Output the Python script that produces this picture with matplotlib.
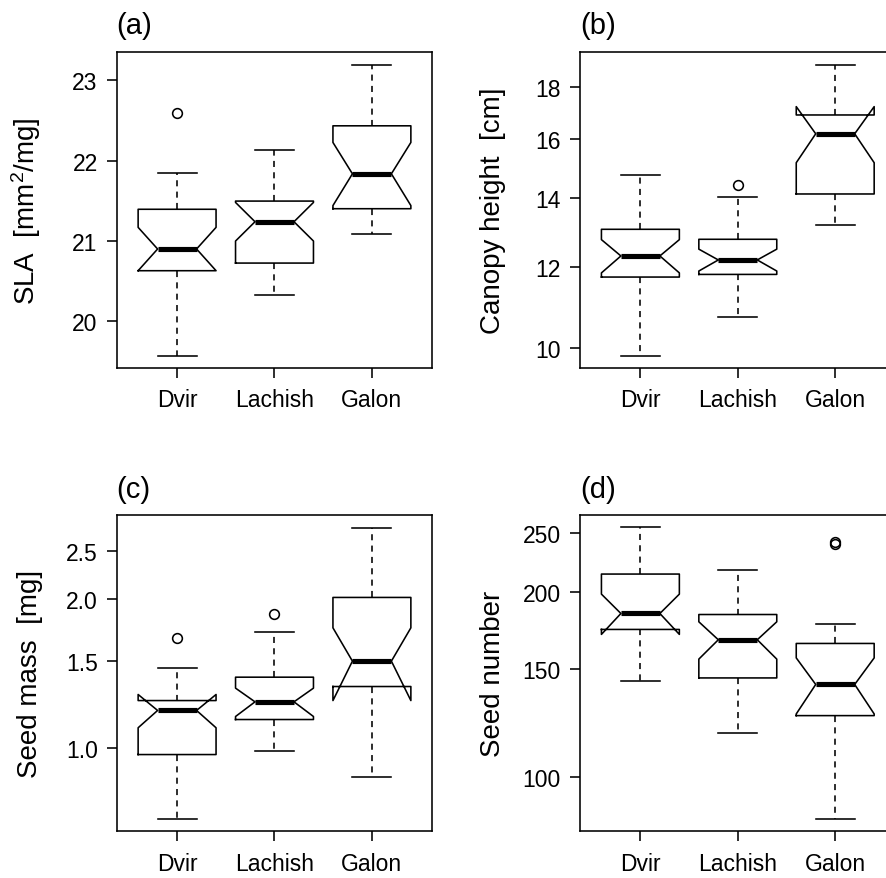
import matplotlib
matplotlib.use("Agg")
import matplotlib.pyplot as plt
from matplotlib.ticker import NullLocator, FixedLocator, FixedFormatter

plt.rcParams['font.family'] = ['Liberation Sans', 'DejaVu Sans']
plt.rcParams['mathtext.fontset'] = 'custom'
plt.rcParams['mathtext.rm'] = 'Liberation Sans'
plt.rcParams['mathtext.it'] = 'Liberation Sans:italic'

sites = ["Dvir", "Lachish", "Galon"]

# panel (a) SLA: whislo, q1, med, q3, whishi, cilo, cihi
sla_whislo = [19.57, 20.331, 21.081]
sla_q1 = [20.63, 20.725, 21.401]
sla_med = [20.90, 21.239, 21.835]
sla_q3 = [21.394, 21.496, 22.432]
sla_whishi = [21.844, 22.126, 23.19]
sla_cilo = [20.63, 20.999, 21.44]
sla_cihi = [21.169, 21.479, 22.225]
sla_fliers = [[22.59], [], []]

# panel (b) canopy height
ch_whislo = [9.82, 10.71, 13.19]
ch_q1 = [11.73, 11.80, 14.14]
ch_med = [12.30, 12.19, 16.19]
ch_q3 = [13.06, 12.77, 16.89]
ch_whishi = [14.75, 14.03, 18.90]
ch_cilo = [11.84, 11.89, 15.17]
ch_cihi = [12.76, 12.49, 17.21]
ch_fliers = [[], [14.43], []]

# panel (c) seed mass
sm_whislo = [0.7177, 0.9877, 0.8725]
sm_q1 = [0.9695, 1.1409, 1.330]
sm_med = [1.190, 1.2386, 1.4965]
sm_q3 = [1.246, 1.389, 2.012]
sm_whishi = [1.451, 1.7126, 2.782]
sm_cilo = [1.098, 1.157, 1.246]
sm_cihi = [1.2816, 1.320, 1.747]
sm_fliers = [[1.663], [1.862], []]

# panel (d) seed number
sn_whislo = [143.3, 118.1, 85.5]
sn_q1 = [174.0, 145.1, 126.0]
sn_med = [184.7, 167.4, 141.6]
sn_q3 = [214.1, 184.0, 165.1]
sn_whishi = [255.0, 217.6, 177.5]
sn_cilo = [170.8, 155.7, 126.8]
sn_cihi = [198.6, 179.05, 156.4]
sn_fliers = [[], [], [239.3, 241.3]]

panels = [
    dict(tag="(a)", ylabel=r"SLA  [mm$^{2}$/mg]", log=False,
         stats=(sla_whislo, sla_q1, sla_med, sla_q3, sla_whishi, sla_cilo, sla_cihi, sla_fliers),
         yticks=[20, 21, 22, 23], ylabels=["20", "21", "22", "23"], ylim=(19.42, 23.35)),
    dict(tag="(b)", ylabel="Canopy height  [cm]", log=True,
         stats=(ch_whislo, ch_q1, ch_med, ch_q3, ch_whishi, ch_cilo, ch_cihi, ch_fliers),
         yticks=[10, 12, 14, 16, 18], ylabels=["10", "12", "14", "16", "18"], ylim=(9.56, 19.46)),
    dict(tag="(c)", ylabel="Seed mass  [mg]", log=True,
         stats=(sm_whislo, sm_q1, sm_med, sm_q3, sm_whishi, sm_cilo, sm_cihi, sm_fliers),
         yticks=[1.0, 1.5, 2.0, 2.5], ylabels=["1.0", "1.5", "2.0", "2.5"], ylim=(0.6787, 2.947)),
    dict(tag="(d)", ylabel="Seed number", log=True,
         stats=(sn_whislo, sn_q1, sn_med, sn_q3, sn_whishi, sn_cilo, sn_cihi, sn_fliers),
         yticks=[100, 150, 200, 250], ylabels=["100", "150", "200", "250"], ylim=(81.7, 266.8)),
]

W, H = 887, 879
fig = plt.figure(figsize=(W / 100, H / 100), dpi=100)
fig.patch.set_facecolor("white")

ax_w = 315.6 / W
ax_h = 316.0 / H
lefts = [116.7 / W, 580.0 / W, 116.7 / W, 580.0 / W]
bottoms = [(H - 369.0) / H, (H - 369.0) / H, (H - 832.3) / H, (H - 832.3) / H]

lw = 1.15
for i, p in enumerate(panels):
    ax = fig.add_axes([lefts[i], bottoms[i], ax_w, ax_h])
    wl, q1, md, q3, wh, cl, chh, fl = p["stats"]
    bstats = []
    for j in range(3):
        bstats.append(dict(whislo=wl[j], q1=q1[j], med=md[j], q3=q3[j], whishi=wh[j],
                           cilo=cl[j], cihi=chh[j], fliers=fl[j], label=sites[j]))
    if p["log"]:
        ax.set_yscale("log")
    ax.bxp(bstats, positions=[1, 2, 3], widths=0.8, shownotches=True,
           boxprops=dict(color="black", linewidth=lw),
           whiskerprops=dict(color="black", linewidth=lw, linestyle=(0, (3.8, 3.3))),
           capprops=dict(color="black", linewidth=lw),
           medianprops=dict(color="black", linewidth=3.7, solid_capstyle="butt"),
           flierprops=dict(marker="o", markerfacecolor="none", markeredgecolor="black",
                           markersize=7, markeredgewidth=lw, linestyle="none"))
    ax.set_xlim(0.38, 3.62)
    ax.set_ylim(*p["ylim"])
    ax.yaxis.set_major_locator(FixedLocator(p["yticks"]))
    ax.yaxis.set_major_formatter(FixedFormatter(p["ylabels"]))
    ax.yaxis.set_minor_locator(NullLocator())
    ax.set_xticks([1, 2, 3])
    ax.set_xticklabels(sites)
    ax.tick_params(axis="both", which="major", direction="out", length=7.2, width=lw,
                   labelsize=16.5, color="black")
    ax.tick_params(axis="y", pad=6.5)
    ax.tick_params(axis="x", pad=7.5)
    for s in ax.spines.values():
        s.set_linewidth(lw)
        s.set_color("black")
    ax.set_ylabel(p["ylabel"], fontsize=20)
    ax.yaxis.set_label_coords(-0.234, 0.5)
    ax.set_title(p["tag"], loc="left", fontsize=21, pad=13.5)

fig.savefig("out.png", dpi=100, facecolor="white")
